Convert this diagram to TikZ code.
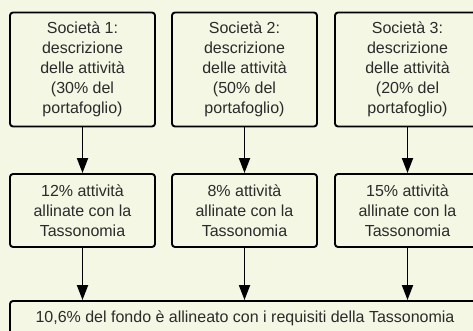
\documentclass[tikz,border=0pt]{standalone}
\usepackage{fontspec}
\setmainfont{Liberation Sans}
\usetikzlibrary{arrows.meta}
\definecolor{bg}{HTML}{F4F7E4}
\definecolor{txt}{HTML}{2B2B2B}
\begin{document}
\begin{tikzpicture}[x=1pt,y=-1pt,
  box/.style={draw=black, line width=1.9pt, rounded corners=3pt, fill=bg, align=center, text=txt,
    font=\fontsize{16}{20}\selectfont, inner sep=0pt},
  arr/.style={-{Triangle[width=11pt,length=15pt]}, line width=1.9pt}]
\useasboundingbox (0,0) rectangle (473,331);
\clip (0,0) rectangle (473,331);
\fill[bg] (0,0) rectangle (473,331);
\node[box, minimum width=145pt, minimum height=114pt] (s1) at (82.5,69.5) {Società 1:\\descrizione\\delle attività\\(30\% del\\portafoglio)};
\node[box, minimum width=145pt, minimum height=114pt] (s2) at (244.5,69.5) {Società 2:\\descrizione\\delle attività\\(50\% del\\portafoglio)};
\node[box, minimum width=145pt, minimum height=114pt] (s3) at (407.5,69.5) {Società 3:\\descrizione\\delle attività\\(20\% del\\portafoglio)};
\node[box, minimum width=145pt, minimum height=73pt] (a1) at (82.5,210.5) {12\% attività\\allinate con la\\Tassonomia};
\node[box, minimum width=145pt, minimum height=73pt] (a2) at (244.5,210.5) {8\% attività\\allinate con la\\Tassonomia};
\node[box, minimum width=145pt, minimum height=73pt] (a3) at (407.5,210.5) {15\% attività\\allinate con la\\Tassonomia};
\node[box, minimum width=470pt, minimum height=34pt] (f) at (245,318) {10,6\% del fondo è allineato con i requisiti della Tassonomia};
\draw[arr] (s1.south) -- (a1.north);
\draw[arr] (s2.south) -- (a2.north);
\draw[arr] (s3.south) -- (a3.north);
\draw[arr] (a1.south) -- (a1.south |- f.north);
\draw[arr] (a2.south) -- (a2.south |- f.north);
\draw[arr] (a3.south) -- (a3.south |- f.north);
\end{tikzpicture}
\end{document}
